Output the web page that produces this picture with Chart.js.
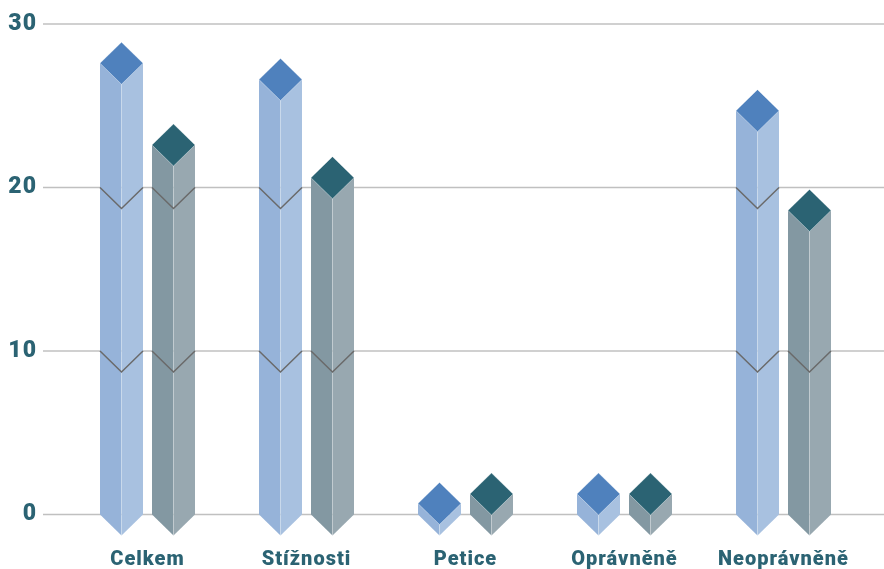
<!DOCTYPE html>
<html>
<head>
<meta charset="utf-8">
<script src="https://cdn.jsdelivr.net/npm/chart.js@4/dist/chart.umd.js"></script>
<style>
body { margin: 0; background: #fff; }
</style>
</head>
<body>
<canvas id="chart" width="884" height="569"></canvas>
<script>
const categories = ['Celkem', 'Stížnosti', 'Petice', 'Oprávněně', 'Neoprávněně'];
const blueValues = [27.6, 26.6, 0.67, 1.25, 24.7];
const tealValues = [22.6, 20.6, 1.25, 1.25, 18.6];
const yTicks = [0, 10, 20, 30];

const blueFaces = { top: '#4f81bd', left: '#96b3d9', right: '#a8c1e0' };
const tealFaces = { top: '#2b6373', left: '#8398a2', right: '#98a8b0' };
const textColor = '#2b6373';

// half height of the diamond on top of each column
const DIAMOND = 21;

function poly(ctx, pts, color) {
    ctx.beginPath();
    pts.forEach((p, i) => i ? ctx.lineTo(p[0], p[1]) : ctx.moveTo(p[0], p[1]));
    ctx.closePath();
    ctx.fillStyle = color;
    ctx.fill();
}

const gridLines = {
    id: 'gridLines',
    beforeDraw(chart) {
        const ctx = chart.ctx;
        ctx.letterSpacing = '1px';
        ctx.save();
        ctx.strokeStyle = '#c0c0c0';
        ctx.lineWidth = 1.5;
        chart.scales.y.ticks.forEach((t) => {
            const y = chart.scales.y.getPixelForValue(t.value);
            ctx.beginPath();
            ctx.moveTo(43, y);
            ctx.lineTo(chart.width, y);
            ctx.stroke();
        });
        ctx.restore();
    }
};

const isoColumns = {
    id: 'isoColumns',
    afterDatasetsDraw(chart) {
        const ctx = chart.ctx;
        const yScale = chart.scales.y;
        chart.data.datasets.forEach((ds, d) => {
            const faces = ds.faces;
            chart.getDatasetMeta(d).data.forEach((bar, i) => {
                const cx = bar.x;
                const half = bar.width / 2;
                const l = cx - half;
                const r = cx + half;
                const top = bar.y;
                const base = bar.base;
                ctx.save();
                poly(ctx, [[l, top], [cx, top + DIAMOND], [cx, base + DIAMOND], [l, base]], faces.left);
                poly(ctx, [[r, top], [cx, top + DIAMOND], [cx, base + DIAMOND], [r, base]], faces.right);
                ctx.strokeStyle = 'rgba(255,255,255,0.25)';
                ctx.lineWidth = 1;
                ctx.beginPath();
                ctx.moveTo(cx, top + DIAMOND);
                ctx.lineTo(cx, base + DIAMOND);
                ctx.stroke();
                // the grid line bends around the front of the column
                ctx.strokeStyle = '#6a6a6a';
                ctx.lineWidth = 1.5;
                yScale.ticks.forEach((t) => {
                    const y = yScale.getPixelForValue(t.value);
                    if (t.value === 0 || y < top + DIAMOND) return;
                    ctx.beginPath();
                    ctx.moveTo(l, y);
                    ctx.lineTo(cx, y + DIAMOND);
                    ctx.lineTo(r, y);
                    ctx.stroke();
                });
                poly(ctx, [[cx, top - DIAMOND], [r, top], [cx, top + DIAMOND], [l, top]], faces.top);
                ctx.strokeStyle = 'rgba(255,255,255,0.35)';
                ctx.lineWidth = 0.75;
                ctx.stroke();
                ctx.restore();
            });
        });
    }
};

new Chart(document.getElementById('chart'), {
    type: 'bar',
    plugins: [gridLines, isoColumns],
    data: {
        labels: categories,
        datasets: [
            { data: blueValues, backgroundColor: 'transparent', faces: blueFaces },
            { data: tealValues, backgroundColor: 'transparent', faces: tealFaces }
        ]
    },
    options: {
        responsive: false,
        animation: false,
        events: [],
        layout: { padding: { top: 24, right: 21, left: 0, bottom: 0 } },
        categoryPercentage: 0.654,
        barPercentage: 0.827,
        plugins: { legend: { display: false }, tooltip: { enabled: false } },
        scales: {
            x: {
                grid: { display: false, drawTicks: false },
                border: { display: false },
                afterFit(scale) {
                    scale.height = 54.5;
                    scale.paddingLeft = 0;
                    scale.paddingRight = 0;
                },
                ticks: {
                    autoSkip: false,
                    maxRotation: 0,
                    padding: 33,
                    color: textColor,
                    font: { family: 'Roboto', weight: '900', size: 20 }
                }
            },
            y: {
                min: 0,
                max: 30,
                grid: { display: false, drawTicks: false },
                border: { display: false },
                afterFit(scale) {
                    scale.width = 68;
                    // tick padding would otherwise push the plot down from the top
                    scale.paddingTop = 0;
                    scale.paddingBottom = 0;
                },
                afterBuildTicks(scale) { scale.ticks = yTicks.map((v) => ({ value: v })); },
                ticks: {
                    padding: 31,
                    color: textColor,
                    font: { family: 'Roboto', weight: '900', size: 23 }
                }
            }
        }
    }
});
</script>
</body>
</html>
